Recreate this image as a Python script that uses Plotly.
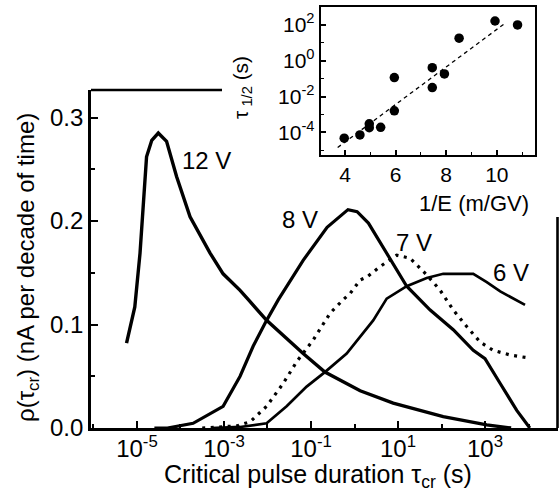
import numpy as np
import plotly.graph_objects as go

# ---------------- data (main panel) ----------------
# log10 of critical pulse duration (s) and density rho (nA per decade of time)
v12_logtau = [-5.24, -5.05, -4.93, -4.86, -4.78, -4.66, -4.51, -4.32, -4.09, -3.78, -3.32,
              -3.02, -2.63, -2.44, -2.02, -1.18, -0.68, 0.13, 0.89, 2.04, 3.04, 3.6]
v12_rho = [0.082, 0.117, 0.169, 0.217, 0.262, 0.278, 0.285, 0.277, 0.243, 0.204, 0.169,
           0.149, 0.133, 0.124, 0.104, 0.072, 0.054, 0.036, 0.024, 0.011, 0.003, 0.0]

v8_logtau = [-4.6, -4.3, -3.71, -3.02, -2.63, -2.33, -2.02, -1.75, -1.18, -0.95, -0.63, -0.15,
             0.06, 0.32, 0.70, 1.20, 1.74, 2.27, 2.73, 3.0, 3.35, 3.73, 4.03]
v8_rho = [0.0, 0.0, 0.0045, 0.021, 0.050, 0.079, 0.104, 0.124, 0.162, 0.175, 0.194, 0.211,
          0.209, 0.198, 0.172, 0.137, 0.114, 0.095, 0.075, 0.067, 0.043, 0.017, 0.0]

v7_logtau = [-3.5, -2.71, -2.40, -2.02, -1.64, -1.33, -0.95, -0.56, -0.26, -0.10, 0.13, 0.29,
             0.59, 0.97, 1.28, 1.66, 1.97, 2.27, 2.58, 2.89, 3.19, 3.58, 3.96]
v7_rho = [0.0, 0.002, 0.006, 0.021, 0.043, 0.064, 0.085, 0.111, 0.124, 0.130, 0.143, 0.146,
          0.156, 0.167, 0.164, 0.148, 0.133, 0.114, 0.098, 0.083, 0.075, 0.0705, 0.068]

v6_logtau = [-3.3, -2.63, -2.02, -1.56, -1.10, -0.68, -0.18, 0.13, 0.43, 0.74, 1.20, 1.66,
             2.04, 2.73, 3.04, 3.35, 3.92]
v6_rho = [0.0, 0.001, 0.0045, 0.021, 0.040, 0.054, 0.072, 0.088, 0.104, 0.125, 0.137, 0.145,
          0.149, 0.149, 0.141, 0.132, 0.119]

curve_labels = ["12 V", "8 V", "7 V", "6 V"]

main_xtick_exp = [-5, -3, -1, 1, 3]
main_xminor_exp = [-6, -4, -2, 0, 2, 4]
main_yticks = [0.0, 0.1, 0.2, 0.3]
main_yminor = [0.05, 0.15, 0.25]

# ---------------- data (inset) ----------------
inset_invE = [3.97, 4.59, 4.96, 4.96, 5.41, 5.95, 5.95, 7.45, 7.45, 7.93, 8.51, 9.93, 10.82]
inset_log_tau_half = [-4.33, -4.15, -3.53, -3.74, -3.72, -2.80, -0.94, -0.39, -1.50, -0.74,
                      1.26, 2.22, 2.0]
fit_invE = [3.71, 10.36]
fit_log_tau_half = [-4.85, 2.13]

inset_xticks = [4, 6, 8, 10]
inset_xminor = [5, 7, 9, 11]
inset_ytick_exp = [-4, -2, 0, 2]
inset_yminor_exp = [-5, -3, -1, 1, 3]

# ---------------- figure ----------------
W, H = 559, 493


def px(x):
    return x / W


def py(y):
    return 1 - y / H


FONT = "Liberation Sans, Arial, sans-serif"

fig = go.Figure()

tau = lambda arr: (10.0 ** np.array(arr)).tolist()

fig.add_trace(go.Scatter(x=tau(v12_logtau), y=v12_rho, mode="lines",
                         line=dict(color="black", width=3.4), name=curve_labels[0]))
fig.add_trace(go.Scatter(x=tau(v8_logtau), y=v8_rho, mode="lines",
                         line=dict(color="black", width=3.2), name=curve_labels[1]))
fig.add_trace(go.Scatter(x=tau(v7_logtau), y=v7_rho, mode="lines",
                         line=dict(color="black", width=3.2, dash="3px,5.5px"), name=curve_labels[2]))
fig.add_trace(go.Scatter(x=tau(v6_logtau), y=v6_rho, mode="lines",
                         line=dict(color="black", width=2.7), name=curve_labels[3]))

# inset
fig.add_trace(go.Scatter(x=fit_invE, y=tau(fit_log_tau_half), mode="lines",
                         line=dict(color="black", width=1.3, dash="4px,3.5px"),
                         xaxis="x2", yaxis="y2"))
fig.add_trace(go.Scatter(x=inset_invE, y=tau(inset_log_tau_half), mode="markers",
                         marker=dict(color="black", size=9.5),
                         xaxis="x2", yaxis="y2"))

sup = lambda e: "10<sup>%d</sup>" % e

fig.update_layout(
    width=W, height=H,
    margin=dict(l=0, r=0, t=0, b=0, autoexpand=False),
    paper_bgcolor="white", plot_bgcolor="white",
    showlegend=False,
    font=dict(family=FONT, color="black", size=24),
    xaxis=dict(
        type="log", domain=[px(91), px(558)], range=[-6.057, 4.678],
        showline=True, linecolor="black", linewidth=2.6, mirror=False,
        showgrid=False, zeroline=False,
        ticks="inside", ticklen=7, tickwidth=2, tickcolor="black",
        tickmode="array", tickvals=[10.0 ** e for e in main_xtick_exp],
        ticktext=[sup(e) for e in main_xtick_exp],
        tickfont=dict(size=24, family=FONT), ticklabelstandoff=-3,
        minor=dict(tickmode="array", tickvals=[10.0 ** e for e in main_xminor_exp],
                   ticks="inside", ticklen=4, tickwidth=1.5, tickcolor="black"),
        anchor="y",
    ),
    yaxis=dict(
        domain=[py(428), py(90)], range=[0, 0.3266],
        showline=True, linecolor="black", linewidth=2.6, mirror=False,
        showgrid=False, zeroline=False,
        ticks="inside", ticklen=7, tickwidth=2, tickcolor="black",
        tickmode="array", tickvals=main_yticks,
        ticktext=["%.1f" % v for v in main_yticks],
        tickfont=dict(size=24, family=FONT),
        minor=dict(tickmode="array", tickvals=main_yminor,
                   ticks="inside", ticklen=4, tickwidth=1.5, tickcolor="black"),
        anchor="x",
    ),
    xaxis2=dict(
        domain=[px(320.7), px(535)], range=[3.04, 11.51],
        showline=True, linecolor="black", linewidth=2, mirror=True,
        showgrid=False, zeroline=False,
        ticks="inside", ticklen=5, tickwidth=1.5, tickcolor="black",
        tickmode="array", tickvals=inset_xticks,
        ticktext=[str(v) for v in inset_xticks],
        tickfont=dict(size=21, family=FONT),
        minor=dict(tickmode="array", tickvals=inset_xminor,
                   ticks="inside", ticklen=3, tickwidth=1.2, tickcolor="black"),
        anchor="y2",
    ),
    yaxis2=dict(
        type="log", domain=[py(155), py(6.7)], range=[-5.27, 3.02],
        showline=True, linecolor="black", linewidth=2, mirror=True,
        showgrid=False, zeroline=False,
        ticks="inside", ticklen=5, tickwidth=1.5, tickcolor="black",
        tickmode="array", tickvals=[10.0 ** e for e in inset_ytick_exp],
        ticktext=[sup(e) for e in inset_ytick_exp],
        tickfont=dict(size=21, family=FONT),
        minor=dict(tickmode="array", tickvals=[10.0 ** e for e in inset_yminor_exp],
                   ticks="inside", ticklen=3, tickwidth=1.2, tickcolor="black"),
        anchor="x2",
    ),
)

# partial top and right frame of the main panel (hidden behind inset)
fig.add_shape(type="line", xref="paper", yref="paper",
              x0=px(91), x1=px(222), y0=py(90), y1=py(90),
              line=dict(color="black", width=2.6))
fig.add_shape(type="line", xref="paper", yref="paper",
              x0=px(557.5), x1=px(557.5), y0=py(428), y1=py(217),
              line=dict(color="black", width=2.6))

# curve labels
label_pos = [(206, 160), (300, 220), (414, 242), (511, 272)]
for txt, (lx, ly) in zip(curve_labels, label_pos):
    fig.add_annotation(text=txt, x=px(lx), y=py(ly), xref="paper", yref="paper",
                       showarrow=False, xanchor="center", yanchor="middle",
                       font=dict(size=24, family=FONT))

# axis titles
fig.add_annotation(text="Critical pulse duration \u03c4<sub>cr</sub> (s)",
                   x=px(318), y=py(476), xref="paper", yref="paper", showarrow=False,
                   xanchor="center", yanchor="middle", font=dict(size=25, family=FONT))
fig.add_annotation(text="\u03c1(\u03c4<sub>cr</sub>) (nA per decade of time)",
                   x=px(27), y=py(268), xref="paper", yref="paper", showarrow=False,
                   textangle=-90, xanchor="center", yanchor="middle",
                   font=dict(size=24, family=FONT))
fig.add_annotation(text="1/E (m/GV)",
                   x=px(474), y=py(203), xref="paper", yref="paper", showarrow=False,
                   xanchor="center", yanchor="middle", font=dict(size=22, family=FONT))
fig.add_annotation(text="\u03c4<sub> 1/2</sub> (s)",
                   x=px(242), y=py(88), xref="paper", yref="paper", showarrow=False,
                   textangle=-90, xanchor="center", yanchor="middle",
                   font=dict(size=21, family=FONT))

fig.write_html("out.html")
